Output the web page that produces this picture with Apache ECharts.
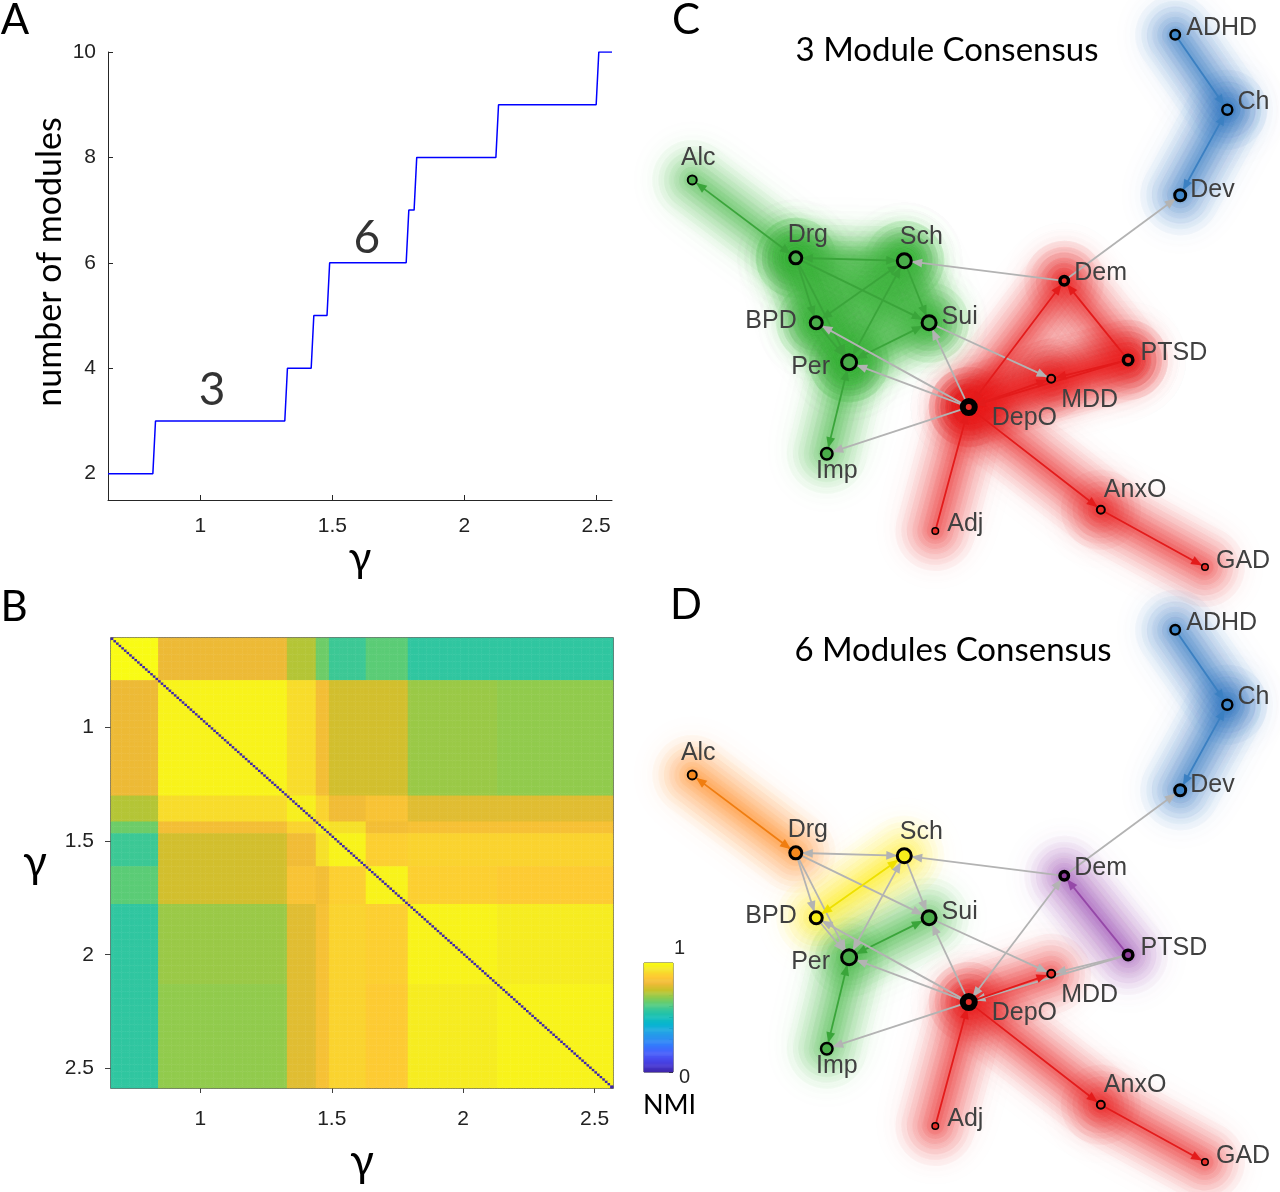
<!DOCTYPE html>
<html>
<head>
<meta charset="utf-8">
<title>Module consensus</title>
<script src="https://cdn.jsdelivr.net/npm/echarts@6/dist/echarts.min.js"></script>
<style>
html, body { margin: 0; padding: 0; background: #fff; }
#chart { width: 1280px; height: 1192px; }
</style>
</head>
<body>
<div id="chart"></div>
<script>
// ---- A: number of modules vs gamma ----
var gammaA   = [0.65, 0.82, 0.83, 1.32, 1.33, 1.42, 1.43, 1.48, 1.49, 1.78, 1.79, 1.81, 1.82, 2.12, 2.13, 2.50, 2.51, 2.56];
var modulesA = [2, 2, 3, 3, 4, 4, 5, 5, 6, 6, 7, 7, 8, 8, 9, 9, 10, 10];
var stepNotes = [{name: '3', value: [1.044, 3.59]}, {name: '6', value: [1.631, 6.47]}];
var gammaTicks = [1, 1.5, 2, 2.5];
var moduleTicks = [2, 4, 6, 8, 10];

// ---- B: NMI between partitions (blocks follow the steps in A) ----
var gammaStart = 0.66, gammaStep = 0.01, gammaCount = 191;
var blockEdges = [0.66, 0.839, 1.335, 1.437, 1.494, 1.627, 1.795, 2.135, 2.57];
var blockNMI = [
  [1.00, 0.81, 0.73, 0.65, 0.58, 0.63, 0.56, 0.56],
  [0.81, 0.98, 0.92, 0.83, 0.77, 0.77, 0.70, 0.69],
  [0.73, 0.92, 0.97, 0.90, 0.82, 0.85, 0.79, 0.79],
  [0.65, 0.83, 0.90, 0.97, 0.93, 0.83, 0.84, 0.84],
  [0.58, 0.77, 0.82, 0.93, 0.98, 0.89, 0.90, 0.90],
  [0.63, 0.77, 0.85, 0.83, 0.89, 0.98, 0.89, 0.88],
  [0.56, 0.70, 0.79, 0.84, 0.90, 0.89, 0.98, 0.96],
  [0.56, 0.69, 0.79, 0.84, 0.90, 0.88, 0.96, 0.98]
];
var diagNMI = 0;
var parula = ['#3e26a8', '#4537d5', '#484df0', '#4563fd', '#327cfc', '#2b91ef', '#20a5e3', '#08b5d0',
              '#12beb9', '#31c69f', '#57cc7a', '#8fcb4e', '#c5c22a', '#efba36', '#fec934', '#f5e327', '#f9fb15'];

// ---- C/D: network ----
var nodeNames = ['ADHD', 'Ch', 'Dev', 'Alc', 'Drg', 'Sch', 'Dem', 'BPD', 'Sui', 'Per', 'PTSD', 'MDD', 'DepO', 'Imp', 'AnxO', 'Adj', 'GAD'];
var nodeX = [8.31, 9.15, 8.39, 0.52, 2.19, 3.94, 6.52, 2.52, 4.34, 3.05, 7.55, 6.31, 4.98, 2.69, 7.11, 4.44, 8.79];
var nodeY = [9.41, 8.14, 6.69, 6.95, 5.63, 5.58, 5.24, 4.53, 4.53, 3.86, 3.90, 3.58, 3.10, 2.31, 1.36, 1.00, 0.39];
var module3 = [0, 0, 0, 1, 1, 1, 2, 1, 1, 1, 2, 2, 2, 1, 2, 2, 2];
var module6 = [0, 0, 0, 3, 3, 4, 5, 4, 1, 1, 5, 2, 2, 1, 2, 2, 2];
var edgeFrom = ['ADHD', 'Ch', 'Dem', 'Alc', 'Drg', 'Drg', 'Drg', 'Drg', 'Sch', 'Sch', 'Sch', 'BPD', 'Per', 'Per',
                'Dem', 'DepO', 'DepO', 'DepO', 'DepO', 'Sui', 'DepO', 'PTSD', 'PTSD', 'PTSD', 'DepO', 'Adj', 'DepO', 'AnxO'];
var edgeTo   = ['Ch', 'Dev', 'Dev', 'Drg', 'Sch', 'BPD', 'Per', 'Sui', 'BPD', 'Per', 'Sui', 'Per', 'Sui', 'Imp',
                'Sch', 'BPD', 'Per', 'Sui', 'Imp', 'MDD', 'Dem', 'Dem', 'MDD', 'DepO', 'MDD', 'DepO', 'AnxO', 'GAD'];
var edgeBoth = [0, 1, 0, 1, 1, 0, 0, 0, 1, 1, 0, 0, 1, 1, 0, 0, 0, 0, 0, 0, 1, 0, 0, 0, 0, 0, 0, 0];

// styles
var nodeSize   = [9.5, 10, 11, 9, 12, 14, 8.5, 12, 14, 15, 9.5, 8, 12, 11.5, 8, 6.5, 6.5];
var nodeBorder = [2.5, 2.5, 3, 2, 3, 3, 3.5, 3, 3, 3, 3.5, 2, 6, 2.5, 2, 1.5, 1.5];
var labelPlace = [
  ['right', 5, 0, -7], ['right', 4, 0, -8], ['right', 3, 0, -5], ['top', 4, 6, 0], ['top', 3, 12, 0],
  ['top', 3, 17, 0], ['right', 4, 0, -8], ['left', 12, 0, -2], ['right', 4, 0, -6], ['left', 10, 0, 5],
  ['right', 6, 0, -7], ['right', 5, 0, 21], ['right', 14, 0, 11], ['bottom', -2, 10, 0], ['right', -2, 0, -20],
  ['right', 8, 0, -7], ['right', 7, 0, -6]
];
var moduleColor = ['#3f86c9', '#4aad4a', '#e8302a', '#f5891e', '#f7ee1b', '#8f3f9c'];
var edgeColor   = ['#3b80c2', '#3aa53a', '#e31b1b', '#f07d10', '#eee000', '#9548a8'];
var glowColor   = ['40,115,195', '70,185,70', '238,35,35', '250,135,25', '250,240,10', '155,75,180'];
// width, alpha, blur of the stacked glow strokes (widest first)
var glowLayers  = [[80, 0.037, 36], [68, 0.045, 32], [57, 0.053, 28], [46, 0.062, 24],
                   [36, 0.07, 20], [26, 0.078, 16], [17, 0.086, 12], [9, 0.095, 8]];
var greyEdge = '#b3b3b3';
// arrow head whose tip sits at the symbol centre (so it ends on the node border)
var arrowHead = 'path://M-10,0 M10,0 M0,10 L4,20 L-4,20 Z';
var tickFont = 'Liberation Sans, Arial, sans-serif';
var titleFont = 'Lato, Open Sans, sans-serif';

var nodeIndex = {};
nodeNames.forEach(function (n, i) { nodeIndex[n] = i; });

// heatmap cells from the block table
var gammaB = [];
for (var i = 0; i < gammaCount; i++) gammaB.push((gammaStart + gammaStep * (i + 0.5)).toFixed(3));
function blockOf(g) {
  var k = 0;
  while (k < blockEdges.length - 2 && g >= blockEdges[k + 1]) k++;
  return k;
}
var cellBlock = gammaB.map(function (g) { return blockOf(+g); });
var nmiCells = [];
for (var r = 0; r < gammaCount; r++) {
  for (var c = 0; c < gammaCount; c++) {
    nmiCells.push([c, r, r === c ? diagNMI : blockNMI[cellBlock[r]][cellBlock[c]]]);
  }
}
var cbLevels = [], cbCells = [];
for (var l = 0; l < 100; l++) { cbLevels.push(String(l)); cbCells.push([0, l, (l + 0.5) / 100]); }

function graphNodes(modules) {
  return nodeNames.map(function (n, i) {
    var p = labelPlace[i];
    return {
      name: n,
      value: [nodeX[i], nodeY[i]],
      symbolSize: nodeSize[i],
      itemStyle: {color: moduleColor[modules[i]], borderColor: '#000', borderWidth: nodeBorder[i]},
      label: {position: p[0], distance: p[1], offset: [p[2], p[3]]}
    };
  });
}
function graphLinks(modules) {
  return edgeFrom.map(function (s, k) {
    var a = nodeIndex[s], b = nodeIndex[edgeTo[k]];
    return {
      source: s, target: edgeTo[k],
      symbol: [edgeBoth[k] ? arrowHead : 'none', arrowHead],
      lineStyle: {color: modules[a] === modules[b] ? edgeColor[modules[a]] : greyEdge}
    };
  });
}
// one soft stroke layer along every within-module edge
function glowSeries(modules, xi, yi, layer) {
  var data = [];
  edgeFrom.forEach(function (s, k) {
    var a = nodeIndex[s], b = nodeIndex[edgeTo[k]];
    if (modules[a] !== modules[b]) return;
    var c = glowColor[modules[a]];
    data.push({
      coords: [[nodeX[a], nodeY[a]], [nodeX[b], nodeY[b]]],
      lineStyle: {color: 'rgba(' + c + ',' + layer[1] + ')', shadowColor: 'rgba(' + c + ',1)'}
    });
  });
  return {
    type: 'lines', coordinateSystem: 'cartesian2d', xAxisIndex: xi, yAxisIndex: yi,
    data: data, silent: true, z: 1,
    lineStyle: {width: layer[0], opacity: 1, cap: 'round', curveness: 0, shadowBlur: layer[2]}
  };
}
function graphSeries(modules, xi, yi) {
  return {
    type: 'graph', layout: 'none', coordinateSystem: 'cartesian2d', xAxisIndex: xi, yAxisIndex: yi,
    data: graphNodes(modules), links: graphLinks(modules), edgeSymbolSize: 22, z: 3,
    lineStyle: {width: 1.8, opacity: 1, curveness: 0},
    label: {show: true, fontFamily: tickFont, fontSize: 25, color: '#404040'},
    emphasis: {disabled: true}
  };
}

function hiddenAxis(grid) {
  return {type: 'value', gridIndex: grid, min: 0, max: 10, show: false};
}
var axisText = {fontFamily: tickFont, fontSize: 21, color: '#222'};

var series = [
  {
    type: 'line', xAxisIndex: 0, yAxisIndex: 0,
    data: gammaA.map(function (g, i) { return [g, modulesA[i]]; }),
    showSymbol: false, symbol: 'none',
    lineStyle: {color: '#0000ff', width: 1.5}
  },
  {
    type: 'scatter', xAxisIndex: 0, yAxisIndex: 0, data: stepNotes, symbolSize: 0, silent: true,
    label: {show: true, position: 'inside', formatter: '{b}', fontFamily: titleFont, fontSize: 46, color: '#000'}
  },
  {
    type: 'heatmap', xAxisIndex: 1, yAxisIndex: 1, data: nmiCells, progressive: 0,
    emphasis: {disabled: true}, silent: true
  },
  {
    type: 'heatmap', xAxisIndex: 3, yAxisIndex: 3, data: cbCells, progressive: 0,
    emphasis: {disabled: true}, silent: true
  }
];
glowLayers.forEach(function (layer) { series.push(glowSeries(module3, 4, 5, layer)); });
series.push(graphSeries(module3, 4, 5));
glowLayers.forEach(function (layer) { series.push(glowSeries(module6, 5, 6, layer)); });
series.push(graphSeries(module6, 5, 6));

var option = {
  animation: false,
  backgroundColor: '#fff',
  grid: [
    {left: 108, top: 52, width: 504, height: 448, outerBoundsMode: 'none'},
    {left: 111, top: 638, width: 502, height: 450, show: true, borderColor: '#404040', borderWidth: 1.5, outerBoundsMode: 'none'},
    {left: 644, top: 963, width: 29, height: 109, show: true, borderColor: '#333', borderWidth: 1, outerBoundsMode: 'none'},
    {left: 660, top: 0, width: 620, height: 590, outerBoundsMode: 'none'},
    {left: 660, top: 595, width: 620, height: 590, outerBoundsMode: 'none'}
  ],
  visualMap: {
    type: 'continuous', show: false, min: 0, max: 1, dimension: 2, seriesIndex: [2, 3],
    inRange: {color: parula}
  },
  xAxis: [
    {
      type: 'value', gridIndex: 0, min: 0.65, max: 2.56,
      axisLine: {show: true, lineStyle: {color: '#262626', width: 1}},
      axisTick: {show: true, inside: true, length: 5, customValues: gammaTicks, lineStyle: {color: '#262626'}},
      axisLabel: Object.assign({customValues: gammaTicks, margin: 16}, axisText),
      splitLine: {show: false},
      name: 'γ', nameLocation: 'middle', nameGap: 34,
      nameTextStyle: {fontFamily: titleFont, fontSize: 42, color: '#000'}
    },
    {type: 'category', gridIndex: 1, data: gammaB, show: false, position: 'top'},
    {
      type: 'value', gridIndex: 1, min: 0.66, max: 2.57, position: 'bottom',
      axisLine: {show: false},
      axisTick: {show: true, inside: false, length: 5, customValues: gammaTicks, lineStyle: {color: '#404040'}},
      axisLabel: Object.assign({customValues: gammaTicks, margin: 21}, axisText),
      splitLine: {show: false},
      name: 'γ', nameLocation: 'middle', nameGap: 52,
      nameTextStyle: {fontFamily: titleFont, fontSize: 44, color: '#000'}
    },
    {
      type: 'category', gridIndex: 2, data: [''],
      axisLine: {show: false}, axisTick: {show: false}, axisLabel: {show: false},
      name: 'NMI', nameLocation: 'middle', nameGap: 20,
      nameTextStyle: {fontFamily: titleFont, fontSize: 27, color: '#000', padding: [0, 0, 0, 22]}
    },
    hiddenAxis(3),
    hiddenAxis(4)
  ],
  yAxis: [
    {
      type: 'value', gridIndex: 0, min: 1.5, max: 10,
      axisLine: {show: true, lineStyle: {color: '#262626', width: 1}},
      axisTick: {show: true, inside: true, length: 5, customValues: moduleTicks, lineStyle: {color: '#262626'}},
      axisLabel: Object.assign({customValues: moduleTicks, margin: 12}, axisText),
      splitLine: {show: false},
      name: 'number of modules', nameLocation: 'middle', nameGap: 41,
      nameTextStyle: {fontFamily: titleFont, fontSize: 34, color: '#000', padding: [0, 0, 0, 28]}
    },
    {type: 'category', gridIndex: 1, data: gammaB, show: false, inverse: true, position: 'right'},
    {
      type: 'value', gridIndex: 1, min: 0.61, max: 2.585, inverse: true, position: 'left',
      axisLine: {show: false},
      axisTick: {show: true, inside: false, length: 6, customValues: gammaTicks, lineStyle: {color: '#404040'}},
      axisLabel: Object.assign({customValues: gammaTicks, margin: 17}, axisText),
      splitLine: {show: false},
      name: 'γ', nameLocation: 'middle', nameGap: 64, nameRotate: 0,
      nameTextStyle: {fontFamily: titleFont, fontSize: 44, color: '#000'}
    },
    {type: 'category', gridIndex: 2, data: cbLevels, show: false},
    {
      type: 'value', gridIndex: 2, min: 0, max: 1, interval: 0.1, position: 'right',
      axisLine: {show: false},
      axisTick: {show: true, inside: true, length: 4, lineStyle: {color: '#333'}},
      axisLabel: {
        margin: 1, fontFamily: tickFont, fontSize: 20, color: '#262626',
        formatter: function (v) { return v === 1 ? '{t|1}' : (v === 0 ? '{b|0}' : ''); },
        rich: {t: {padding: [0, 0, 30, 0]}, b: {padding: [10, 0, 0, 5]}}
      },
      splitLine: {show: false}
    },
    hiddenAxis(3),
    hiddenAxis(4)
  ],
  series: series,
  graphic: [
    {type: 'text', x: 15, y: 20, style: {text: 'A', font: '42px ' + titleFont, align: 'center', verticalAlign: 'middle', fill: '#000'}},
    {type: 'text', x: 14, y: 607, style: {text: 'B', font: '42px ' + titleFont, align: 'center', verticalAlign: 'middle', fill: '#000'}},
    {type: 'text', x: 686, y: 20, style: {text: 'C', font: '42px ' + titleFont, align: 'center', verticalAlign: 'middle', fill: '#000'}},
    {type: 'text', x: 686, y: 605, style: {text: 'D', font: '42px ' + titleFont, align: 'center', verticalAlign: 'middle', fill: '#000'}},
    {type: 'text', x: 947, y: 50, style: {text: '3 Module Consensus', font: '33px ' + titleFont, align: 'center', verticalAlign: 'middle', fill: '#000'}},
    {type: 'text', x: 953, y: 650, style: {text: '6 Modules Consensus', font: '33px ' + titleFont, align: 'center', verticalAlign: 'middle', fill: '#000'}}
  ]
};

var chart = echarts.init(document.getElementById('chart'));
chart.setOption(option);
</script>
</body>
</html>
